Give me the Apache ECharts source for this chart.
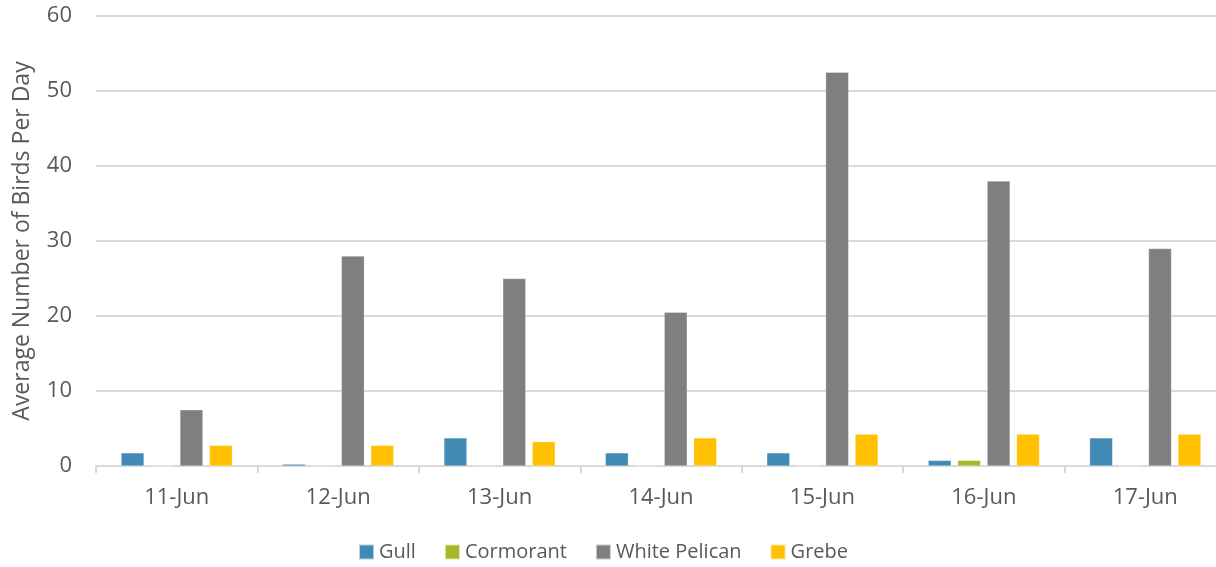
<!DOCTYPE html>
<html>
<head>
<meta charset="utf-8">
<script src="https://cdn.jsdelivr.net/npm/echarts@6/dist/echarts.min.js"></script>
<style>
html,body{margin:0;padding:0;background:#fff;}
#c{width:1216px;height:567px;}
</style>
</head>
<body>
<div id="c"></div>
<script>
const categories = ['11-Jun','12-Jun','13-Jun','14-Jun','15-Jun','16-Jun','17-Jun'];
const gull = [1.75, 0.25, 3.75, 1.75, 1.75, 0.75, 3.75];
const cormorant = [0, 0, 0, 0, 0, 0.75, 0];
const whitePelican = [7.5, 28, 25, 20.5, 52.5, 38, 29];
const grebe = [2.75, 2.75, 3.25, 3.75, 4.25, 4.25, 4.25];
const yTicks = [0, 10, 20, 30, 40, 50, 60];

const font = 'Open Sans';
const txt = '#595959';
const chart = echarts.init(document.getElementById('c'));
function ser(name, data, color) {
  return {
    name, type: 'bar', data, barWidth: 23, barGap: '28%', barCategoryGap: '31%',
    itemStyle: { color: color, borderColor: 'rgba(255,255,255,0.6)', borderWidth: 0.5 },
    emphasis: { disabled: true }
  };
}
chart.setOption({
  animation: false,
  textStyle: { fontFamily: font, color: txt },
  grid: { left: 96, right: -10, top: 16, bottom: 101, containLabel: false, outerBoundsMode: 'none' },
  legend: {
    bottom: 0, left: 353, itemWidth: 15, itemHeight: 15, itemGap: 28, icon: 'rect',
    textStyle: { fontFamily: font, fontSize: 20, color: txt },
    data: ['Gull', 'Cormorant', 'White Pelican', 'Grebe']
  },
  xAxis: {
    type: 'category', data: categories, boundaryGap: true,
    axisLine: { show: true, lineStyle: { color: '#d9d9d9', width: 2 } },
    axisTick: { show: true, length: 7, lineStyle: { color: '#d9d9d9', width: 2 }, alignWithLabel: false },
    axisLabel: { fontFamily: font, fontSize: 22, color: txt, margin: 21 }
  },
  yAxis: {
    type: 'value', min: yTicks[0], max: yTicks[yTicks.length - 1], interval: 10,
    name: 'Average Number of Birds Per Day', nameLocation: 'middle', nameGap: 62,
    nameTextStyle: { fontFamily: font, fontSize: 23, color: txt },
    axisLine: { show: false }, axisTick: { show: false },
    axisLabel: { fontFamily: font, fontSize: 22, color: txt, margin: 24 },
    splitLine: { lineStyle: { color: '#d9d9d9', width: 2 } }
  },
  series: [
    ser('Gull', gull, '#418AB3'),
    ser('Cormorant', cormorant, '#A6B727'),
    ser('White Pelican', whitePelican, '#7F7F7F'),
    ser('Grebe', grebe, '#FEC000')
  ]
});
</script>
</body>
</html>
